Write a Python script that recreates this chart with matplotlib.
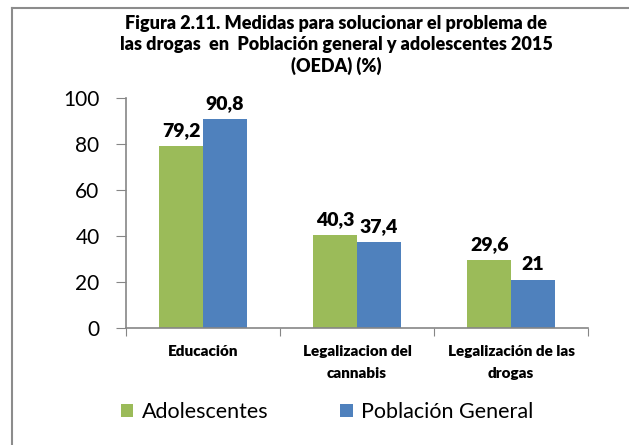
import matplotlib.pyplot as plt
from matplotlib.lines import Line2D
import numpy as np

plt.rcParams['font.family'] = ['Lato', 'DejaVu Sans']

# ------------------ DATOS ------------------
categories = ["Educación", "Legalizacion del\ncannabis", "Legalización de las\ndrogas"]
adolescentes = [79.2, 40.3, 29.6]
poblacion = [90.8, 37.4, 21]
labels_ado = ["79,2", "40,3", "29,6"]
labels_pob = ["90,8", "37,4", "21"]
series_names = ["Adolescentes", "Población General"]
yticks = [0, 20, 40, 60, 80, 100]

green = "#9BBB59"
blue = "#4F81BD"
axis_gray = "#868686"

fig = plt.figure(figsize=(6.29, 4.45), dpi=100)
W, H = 629, 445
ax = fig.add_axes([126 / W, 1 - 328 / H, (588 - 126) / W, (328 - 98) / H])

x = np.arange(len(categories)) + 0.5
bw = 0.283
b1 = ax.bar(x - bw / 2, adolescentes, bw, color=green, label=series_names[0])
b2 = ax.bar(x + bw / 2, poblacion, bw, color=blue, label=series_names[1])

for bars, labs in ((b1, labels_ado), (b2, labels_pob)):
    for rect, lab in zip(bars, labs):
        ax.annotate(lab, (rect.get_x() + rect.get_width() / 2, rect.get_height()),
                    xytext=(0, 5), textcoords="offset points",
                    ha="center", va="bottom", fontsize=14, fontweight="heavy")

# ------------------ EJES ------------------
ax.set_xlim(0, 3)
ax.set_ylim(0, 100)
ax.set_yticks(yticks)
ax.set_yticklabels([str(v) for v in yticks], fontsize=15)
ax.set_xticks([0, 1, 2, 3])
ax.set_xticklabels([])
ax.set_xticks(x, minor=True)
ax.set_xticklabels(categories, minor=True, fontsize=11, fontweight="heavy", linespacing=1.85)
ax.tick_params(axis="x", which="minor", length=0, pad=12)
ax.tick_params(axis="x", which="major", length=6, color=axis_gray, direction="out")
ax.tick_params(axis="y", length=7, color=axis_gray, direction="out", pad=12)
for s in ("top", "right"):
    ax.spines[s].set_visible(False)
for s in ("left", "bottom"):
    ax.spines[s].set_color(axis_gray)
    ax.spines[s].set_linewidth(1.2)

# ------------------ TITULO ------------------
fig.text(336 / W, 1 - 45 / H,
         "Figura 2.11. Medidas para solucionar el problema de\n"
         "las drogas  en  Población general y adolescentes 2015\n"
         "(OEDA) (%)",
         ha="center", va="center", fontsize=13, fontweight="heavy", linespacing=1.3)

# ------------------ LEYENDA ------------------
fig.legend(handles=[b1, b2], labels=series_names, loc="center",
           bbox_to_anchor=(327 / W, 1 - 412 / H), ncol=2, frameon=False,
           fontsize=15.5, handlelength=0.6, handleheight=0.6, handletextpad=0.4,
           columnspacing=3.3)

# ------------------ BORDE ------------------
fig.add_artist(Line2D([12 / W, 12 / W], [0, 1 - 8 / H], color="#8C8C8C", lw=1.5,
                      transform=fig.transFigure))
fig.add_artist(Line2D([12 / W, 1], [1 - 8 / H, 1 - 8 / H], color="#8C8C8C", lw=1.5,
                      transform=fig.transFigure))

fig.savefig("out.png", dpi=100)
